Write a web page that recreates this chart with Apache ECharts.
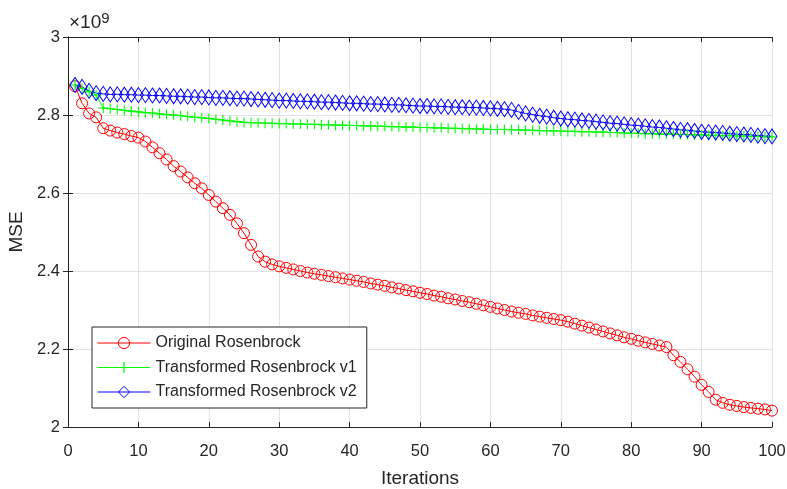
<!DOCTYPE html>
<html>
<head>
<meta charset="utf-8">
<title>MSE vs Iterations</title>
<script src="https://cdn.jsdelivr.net/npm/echarts@6/dist/echarts.min.js"></script>
<style>
  html, body { margin: 0; padding: 0; background: #ffffff; }
  #chart { width: 787px; height: 489px; }
</style>
</head>
<body>
<div id="chart"></div>
<script>
// MSE per iteration, in units of 1e9
const iterations = Array.from({ length: 100 }, (_, i) => i + 1);

const originalRosenbrock = [
  2.874, 2.830, 2.804, 2.794, 2.766, 2.760, 2.755, 2.751, 2.746, 2.742,
  2.732, 2.717, 2.702, 2.686, 2.669, 2.655, 2.640, 2.625, 2.612, 2.595,
  2.578, 2.561, 2.544, 2.522, 2.497, 2.467, 2.437, 2.424, 2.417, 2.412,
  2.408, 2.404, 2.400, 2.396, 2.393, 2.390, 2.387, 2.384, 2.381, 2.378,
  2.375, 2.372, 2.368, 2.365, 2.362, 2.358, 2.355, 2.351, 2.348, 2.344,
  2.341, 2.337, 2.334, 2.330, 2.327, 2.323, 2.320, 2.316, 2.312, 2.308,
  2.304, 2.300, 2.296, 2.293, 2.290, 2.286, 2.283, 2.280, 2.277, 2.274,
  2.270, 2.265, 2.260, 2.255, 2.250, 2.245, 2.240, 2.235, 2.230, 2.226,
  2.221, 2.217, 2.213, 2.209, 2.205, 2.184, 2.167, 2.148, 2.129, 2.108,
  2.090, 2.070, 2.062, 2.057, 2.054, 2.051, 2.049, 2.047, 2.045, 2.042
];

const transformedV1 = [
  2.877, 2.868, 2.860, 2.851, 2.818, 2.816, 2.814, 2.812, 2.810, 2.808,
  2.806, 2.805, 2.803, 2.801, 2.800, 2.798, 2.796, 2.794, 2.793, 2.791,
  2.789, 2.787, 2.785, 2.783, 2.781, 2.780, 2.780, 2.779, 2.779, 2.778,
  2.778, 2.777, 2.777, 2.776, 2.776, 2.775, 2.775, 2.774, 2.774, 2.773,
  2.773, 2.772, 2.772, 2.771, 2.771, 2.770, 2.770, 2.769, 2.769, 2.768,
  2.768, 2.767, 2.767, 2.766, 2.766, 2.765, 2.765, 2.764, 2.764, 2.763,
  2.763, 2.763, 2.762, 2.762, 2.761, 2.761, 2.760, 2.760, 2.759, 2.759,
  2.758, 2.758, 2.757, 2.757, 2.756, 2.756, 2.755, 2.755, 2.754, 2.753,
  2.753, 2.752, 2.752, 2.751, 2.751, 2.751, 2.750, 2.750, 2.749, 2.749,
  2.748, 2.748, 2.747, 2.747, 2.746, 2.746, 2.745, 2.745, 2.744, 2.744
];

const transformedV2 = [
  2.877, 2.872, 2.862, 2.856, 2.854, 2.853, 2.853, 2.852, 2.852, 2.851,
  2.851, 2.850, 2.850, 2.849, 2.848, 2.848, 2.847, 2.846, 2.846, 2.845,
  2.844, 2.844, 2.843, 2.842, 2.842, 2.841, 2.840, 2.839, 2.838, 2.837,
  2.837, 2.836, 2.835, 2.835, 2.834, 2.833, 2.833, 2.832, 2.831, 2.830,
  2.830, 2.829, 2.828, 2.828, 2.827, 2.826, 2.826, 2.825, 2.824, 2.823,
  2.823, 2.822, 2.822, 2.821, 2.820, 2.820, 2.819, 2.819, 2.818, 2.817,
  2.816, 2.815, 2.813, 2.808, 2.804, 2.801, 2.798, 2.796, 2.793, 2.791,
  2.789, 2.788, 2.786, 2.785, 2.783, 2.781, 2.779, 2.778, 2.776, 2.774,
  2.773, 2.771, 2.769, 2.768, 2.766, 2.764, 2.762, 2.761, 2.759, 2.757,
  2.756, 2.755, 2.754, 2.752, 2.751, 2.750, 2.749, 2.747, 2.746, 2.745
];

const seriesNames = ['Original Rosenbrock', 'Transformed Rosenbrock v1', 'Transformed Rosenbrock v2'];
const xTicks = { min: 0, max: 100, interval: 10 };
const yTicks = { min: 2, max: 3, interval: 0.2 };

const FONT = "'Liberation Sans', Arial, Helvetica, sans-serif";
const AXIS_COLOR = '#262626';
const GRID_COLOR = '#e3e3e3';

const plusPath = 'path://M4.45,0h1.1v4.45h4.45v1.1h-4.45v4.45h-1.1v-4.45h-4.45v-1.1h4.45z';

function pairs(values) {
  return values.map((v, i) => [iterations[i], v]);
}

const chart = echarts.init(document.getElementById('chart'), null, { renderer: 'canvas' });

const frameAxisCommon = {
  axisLine: { show: true, lineStyle: { color: AXIS_COLOR, width: 1 } },
  axisTick: { show: true, inside: true, length: 5, lineStyle: { color: AXIS_COLOR } },
  axisLabel: { show: false },
  splitLine: { show: false }
};

chart.setOption({
  animation: false,
  backgroundColor: '#ffffff',
  textStyle: { fontFamily: FONT },
  grid: { left: 68, right: 15, top: 37, bottom: 62, containLabel: false, outerBoundsMode: 'none' },
  xAxis: [
    {
      type: 'value',
      min: xTicks.min, max: xTicks.max, interval: xTicks.interval,
      name: 'Iterations',
      nameLocation: 'middle',
      nameGap: 42,
      nameTextStyle: { color: AXIS_COLOR, fontSize: 19, fontFamily: FONT },
      axisLine: { show: true, onZero: false, lineStyle: { color: AXIS_COLOR, width: 1 } },
      axisTick: { show: true, inside: true, length: 5, lineStyle: { color: AXIS_COLOR } },
      axisLabel: { color: AXIS_COLOR, fontSize: 16.5, margin: 16, fontFamily: FONT },
      splitLine: { show: true, lineStyle: { color: GRID_COLOR, width: 1 } }
    },
    Object.assign({ type: 'value', position: 'top', min: xTicks.min, max: xTicks.max, interval: xTicks.interval }, frameAxisCommon)
  ],
  yAxis: [
    {
      type: 'value',
      min: yTicks.min, max: yTicks.max, interval: yTicks.interval,
      name: 'MSE',
      nameLocation: 'middle',
      nameGap: 37,
      nameRotate: 90,
      nameTextStyle: { color: AXIS_COLOR, fontSize: 19, fontFamily: FONT },
      axisLine: { show: true, onZero: false, lineStyle: { color: AXIS_COLOR, width: 1 } },
      axisTick: { show: true, inside: true, length: 5, lineStyle: { color: AXIS_COLOR } },
      axisLabel: {
        color: AXIS_COLOR, fontSize: 16.5, margin: 8, fontFamily: FONT,
        formatter: v => String(Math.round(v * 10) / 10)
      },
      splitLine: { show: true, lineStyle: { color: GRID_COLOR, width: 1 } }
    },
    Object.assign({ type: 'value', position: 'right', min: yTicks.min, max: yTicks.max, interval: yTicks.interval }, frameAxisCommon)
  ],
  legend: {
    orient: 'vertical',
    left: 92,
    top: 327,
    backgroundColor: '#ffffff',
    borderColor: AXIS_COLOR,
    borderWidth: 1,
    borderRadius: 0,
    padding: [8, 10, 8, 5],
    itemWidth: 53,
    itemHeight: 14,
    itemGap: 8.5,
    lineStyle: { width: 1 },
    itemStyle: { borderWidth: 1 },
    textStyle: { color: AXIS_COLOR, fontSize: 16, fontFamily: FONT },
    data: seriesNames
  },
  graphic: [
    {
      type: 'text',
      left: 69,
      top: 11,
      style: {
        text: '×10{sup|9}',
        fill: AXIS_COLOR,
        font: '19px ' + FONT,
        rich: { sup: { fontSize: 15, fontFamily: FONT, verticalAlign: 'top', padding: [0, 0, 8, 0] } }
      }
    }
  ],
  series: [
    {
      name: seriesNames[0],
      type: 'line',
      data: pairs(originalRosenbrock),
      symbol: 'circle',
      symbolSize: 11,
      showAllSymbol: true,
      lineStyle: { color: '#ff0000', width: 1 },
      itemStyle: { color: 'rgba(255,255,255,0)', borderColor: '#ff0000', borderWidth: 1 },
      emphasis: { disabled: true }
    },
    {
      name: seriesNames[1],
      type: 'line',
      data: pairs(transformedV1),
      symbol: plusPath,
      symbolSize: 10,
      showAllSymbol: true,
      lineStyle: { color: '#00ff00', width: 1 },
      itemStyle: { color: '#00ff00', borderWidth: 0 },
      emphasis: { disabled: true }
    },
    {
      name: seriesNames[2],
      type: 'line',
      data: pairs(transformedV2),
      symbol: 'diamond',
      symbolSize: [10, 15],
      showAllSymbol: true,
      lineStyle: { color: '#0000ff', width: 1 },
      itemStyle: { color: 'rgba(255,255,255,0)', borderColor: '#0000ff', borderWidth: 1 },
      emphasis: { disabled: true }
    }
  ]
});
</script>
</body>
</html>
